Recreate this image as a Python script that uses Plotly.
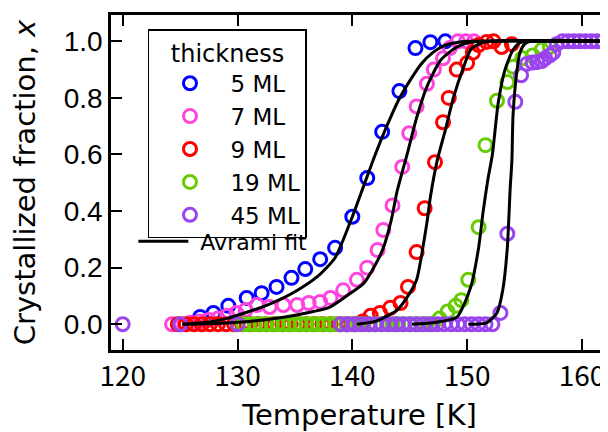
import plotly.graph_objects as go

# ---------------- data ----------------
blue_T = [126.75, 127.9, 129.2, 130.8, 132.1, 133.4, 134.7, 135.9, 137.2, 138.5, 140.0,
          141.3, 142.6, 144.1, 145.5, 146.8, 148.1]
blue_x = [0.026, 0.040, 0.065, 0.093, 0.11, 0.132, 0.164, 0.195, 0.23, 0.27, 0.38,
          0.517, 0.68, 0.824, 0.976, 0.997, 1.0]

pink_T = [124.3, 125.1, 125.9, 126.7, 127.5, 128.3, 129.1, 129.9, 130.7, 131.7, 132.8,
          134.0, 135.2, 136.2, 137.2, 138.1, 139.2, 140.4, 141.3, 142.2, 142.7, 143.5,
          144.35, 144.96, 145.6, 146.5, 147.1, 147.9, 148.5, 149.2, 149.9, 150.6]
pink_x = [0.0, 0.0, 0.005, 0.01, 0.015, 0.02, 0.03, 0.04, 0.05, 0.068, 0.061,
          0.068, 0.068, 0.075, 0.079, 0.093, 0.12, 0.157, 0.2, 0.262, 0.333, 0.42,
          0.556, 0.675, 0.77, 0.85, 0.90, 0.94, 0.976, 1.0, 1.0, 1.0]

red_T = [124.8, 125.5, 126.2, 126.9, 127.6, 128.3, 129.0, 129.7, 130.4, 131.1, 131.8,
         132.5, 133.2, 133.9, 134.6, 135.3, 136.0, 136.7, 137.4, 138.1, 138.8, 139.5,
         140.2, 140.9, 141.6, 142.4, 143.3, 144.2, 144.85, 145.6, 146.3, 147.2, 147.9,
         148.4, 149.1, 150.0, 150.5, 151.0, 151.7, 152.3, 153.0, 153.9]
red_x = [0.0, 0.0, 0.0, 0.0, 0.0, 0.0, 0.0, 0.0, 0.0, 0.0, 0.0,
         0.0, 0.0, 0.0, 0.0, 0.0, 0.0, 0.0, 0.0, 0.0, 0.0, 0.0,
         0.0, 0.01, 0.03, 0.04, 0.058, 0.075, 0.132, 0.255, 0.41, 0.573, 0.714,
         0.80, 0.90, 0.923, 0.96, 0.987, 0.998, 1.0, 0.98, 0.99]

green_T = [130.0, 130.5, 131.0, 131.5, 132.0, 132.5, 133.0, 133.5, 134.0, 134.5, 135.0,
           135.5, 136.0, 136.5, 137.0, 137.5, 138.0, 138.5, 139.0, 139.5, 140.0, 140.5,
           141.0, 141.5, 142.0, 142.5, 143.0, 143.5, 144.0, 144.5, 145.0, 145.5, 146.0,
           146.5, 147.0, 147.6, 148.3, 149.0, 149.5, 150.1, 151.0, 151.6, 152.6, 153.5,
           154.0, 154.8, 155.7, 156.5, 157.2]
green_x = [0.0, 0.0, 0.0, 0.0, 0.0, 0.0, 0.0, 0.0, 0.0, 0.0, 0.0,
           0.0, 0.0, 0.0, 0.0, 0.0, 0.0, 0.0, 0.0, 0.0, 0.0, 0.0,
           0.0, 0.0, 0.0, 0.0, 0.0, 0.0, 0.0, 0.0, 0.0, 0.0, 0.0,
           0.0, 0.0, 0.02, 0.045, 0.065, 0.085, 0.157, 0.343, 0.633, 0.79, 0.856,
           0.91, 0.94, 0.95, 0.97, 0.98]

purple_T = [120.0, 125.0, 130.0, 139.0, 139.6, 140.2, 140.8, 141.4, 142.0, 142.6, 143.2,
            143.8, 144.4, 145.0, 145.6, 146.2, 146.8, 147.4, 148.0, 148.6, 149.2, 149.8,
            150.4, 151.0, 151.6, 152.2, 152.9, 153.5, 154.2, 154.7, 155.2, 155.7, 156.1,
            156.5, 156.8, 157.2, 157.5, 157.8, 158.3, 158.8, 159.3, 159.8, 160.3, 160.8,
            161.3, 161.8, 162.3]
purple_x = [0.0, 0.0, 0.0, 0.0, 0.0, 0.0, 0.0, 0.0, 0.0, 0.0, 0.0,
            0.0, 0.0, 0.0, 0.0, 0.0, 0.0, 0.0, 0.0, 0.0, 0.0, 0.0,
            0.0, 0.0, 0.0, 0.0, 0.04, 0.32, 0.786, 0.88, 0.92, 0.925, 0.927,
            0.93, 0.94, 0.95, 0.96, 0.99, 1.0, 1.0, 1.0, 1.0, 1.0, 1.0,
            1.0, 1.0, 1.0]

# Avrami fit curves
fit_blue_T = [125.2, 127, 129, 131, 133, 135, 137, 138.5, 140, 141, 142, 143, 144, 145,
              146, 147, 148, 149, 150, 162.5]
fit_blue_x = [0, 0.005, 0.02, 0.045, 0.075, 0.115, 0.17, 0.235, 0.38, 0.49, 0.6, 0.7,
              0.79, 0.86, 0.92, 0.96, 0.985, 0.995, 1.0, 1.0]
fit_pink_T = [125.2, 128, 131, 134, 136, 138, 139.5, 141, 142, 142.7, 143.4, 143.9,
              144.8, 145.6, 146.5, 147.7, 149.1, 150.5, 162.5]
fit_pink_x = [0, 0.003, 0.01, 0.025, 0.04, 0.06, 0.1, 0.145, 0.21, 0.27, 0.37, 0.47,
              0.605, 0.73, 0.84, 0.934, 0.98, 0.998, 1.0]
fit_red_T = [140.4, 142, 143.9, 145, 145.6, 146.5, 146.8, 147.4, 148.1, 148.8, 149.7,
             150.3, 151, 152, 162.5]
fit_red_x = [0, 0.01, 0.05, 0.11, 0.157, 0.36, 0.45, 0.58, 0.686, 0.80, 0.91, 0.97,
             0.99, 1.0, 1.0]
fit_green_T = [145.2, 147, 149.1, 150.3, 151.0, 151.4, 151.8, 152.2, 152.7, 153.3, 154.0,
               154.6, 155.5, 162.5]
fit_green_x = [0, 0.005, 0.025, 0.13, 0.27, 0.40, 0.51, 0.6, 0.78, 0.90, 0.97, 0.995,
               1.0, 1.0]
fit_purple_T = [150.1, 151.7, 152.6, 153.1, 153.5, 153.75, 153.9, 154.0, 154.35, 154.6,
                155.0, 155.5, 162.5]
fit_purple_x = [0, 0.005, 0.04, 0.12, 0.27, 0.48, 0.58, 0.74, 0.90, 0.96, 0.99, 1.0, 1.0]

series_names = ["5 ML", "7 ML", "9 ML", "19 ML", "45 ML"]
series_colors = ["#0000FF", "#FF44DD", "#FF0000", "#66CC00", "#9944EE"]
fit_name = "\u00a0Avrami fit"
x_ticks = [120, 130, 140, 150, 160]
y_ticks = [0.0, 0.2, 0.4, 0.6, 0.8, 1.0]

# ---------------- figure ----------------
JP = "Noto Sans CJK JP"
DV = "DejaVu Sans"
fig = go.Figure()

data_T = [blue_T, pink_T, red_T, green_T, purple_T]
data_x = [blue_x, pink_x, red_x, green_x, purple_x]
for T, xv, name, col in zip(data_T, data_x, series_names, series_colors):
    fig.add_trace(go.Scatter(
        x=T, y=xv, mode="markers", name=name, legend="legend",
        marker=dict(symbol="circle-open", size=13, color=col, line=dict(width=3, color=col)),
    ))

fits = [(fit_blue_T, fit_blue_x), (fit_pink_T, fit_pink_x), (fit_red_T, fit_red_x),
        (fit_green_T, fit_green_x), (fit_purple_T, fit_purple_x)]
for i, (T, xv) in enumerate(fits):
    fig.add_trace(go.Scatter(
        x=T, y=xv, mode="lines", name=fit_name, legend="legend2",
        showlegend=(i == 0),
        line=dict(color="black", width=3, shape="spline", smoothing=0.6),
    ))

# invisible trace to carry the right-hand y axis (ticks only)
fig.add_trace(go.Scatter(x=[130], y=[0.5], yaxis="y2", mode="markers",
                         marker=dict(opacity=0), showlegend=False, hoverinfo="skip"))

# the page body has an 8px default margin, so the figure is 600x424
fig.update_layout(
    width=600, height=424,
    margin=dict(l=103, r=0, t=7, b=82),
    paper_bgcolor="white", plot_bgcolor="white",
    xaxis=dict(
        range=[118.98, 162.27], tickvals=x_ticks, ticktext=[str(v) for v in x_ticks],
        ticks="inside", ticklen=11, tickwidth=2, tickcolor="black",
        showline=True, linewidth=2.5, linecolor="black", mirror="ticks",
        showgrid=False, zeroline=False, automargin=False,
        tickfont=dict(family=JP, size=28, color="black"),
        title=dict(text="Temperature [K]", font=dict(family=DV, size=29, color="black"),
                   standoff=19),
    ),
    yaxis=dict(
        range=[-0.091, 1.093], tickvals=y_ticks, ticktext=["%.1f" % v for v in y_ticks],
        ticks="inside", ticklen=11, tickwidth=2, tickcolor="black",
        showline=True, linewidth=2.5, linecolor="black",
        showgrid=False, zeroline=False, automargin=False,
        tickfont=dict(family="Liberation Sans Narrow, Liberation Sans, Arial", size=28,
                      color="black"),
        title=dict(text="Crystallized fraction, <i>x</i>",
                   font=dict(family=DV, size=29, color="black"), standoff=30),
    ),
    yaxis2=dict(
        overlaying="y", side="right", range=[-0.091, 1.093], tickvals=y_ticks,
        ticks="inside", ticklen=6, tickwidth=2, tickcolor="black",
        showticklabels=False, showline=False, showgrid=False, zeroline=False,
        automargin=False,
    ),
    legend=dict(
        x=0.0744, y=0.958, xanchor="left", yanchor="top",
        bgcolor="white", bordercolor="black", borderwidth=1.5,
        font=dict(family=DV, size=23, color="black"),
        title=dict(text="thickness", side="top center",
                   font=dict(family=DV, size=24, color="black")),
        itemwidth=71, tracegroupgap=0,
    ),
    legend2=dict(
        x=0.045, y=0.387, xanchor="left", yanchor="top",
        bgcolor="rgba(0,0,0,0)", borderwidth=0,
        font=dict(family=DV, size=22, color="black"),
        itemwidth=50,
    ),
    showlegend=True,
)

fig.write_html("out.html")
